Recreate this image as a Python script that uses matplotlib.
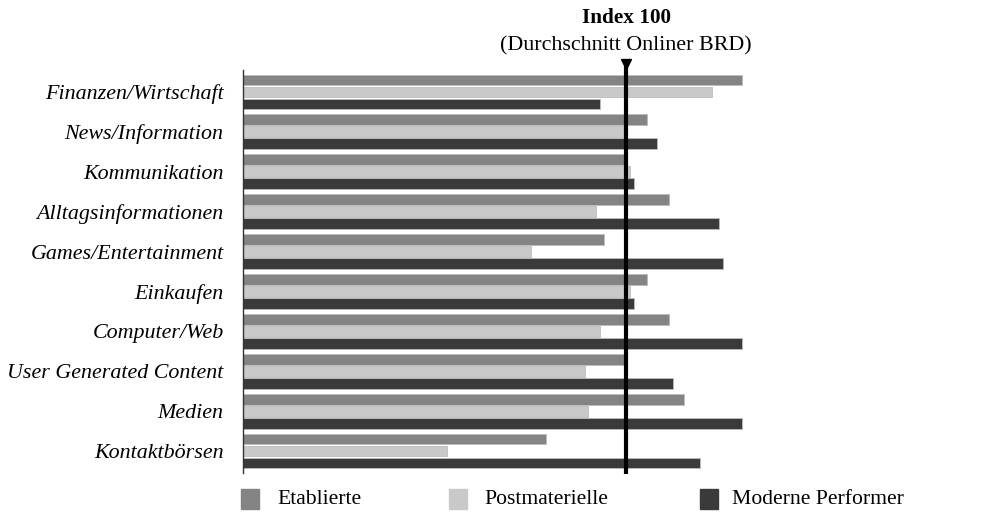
import matplotlib
matplotlib.use("Agg")
import matplotlib.pyplot as plt
from matplotlib.patches import Rectangle
import numpy as np

categories = ["Finanzen/Wirtschaft", "News/Information", "Kommunikation",
              "Alltagsinformationen", "Games/Entertainment", "Einkaufen",
              "Computer/Web", "User Generated Content", "Medien", "Kontaktbörsen"]
series_names = ["Etablierte", "Postmaterielle", "Moderne Performer"]
etablierte = [130.3, 105.4, 99.8, 111.3, 94.3, 105.4, 111.3, 99.8, 115.1, 79.1]
postmaterielle = [122.4, 99.6, 101.1, 92.1, 75.3, 101.1, 93.3, 89.2, 90.1, 53.3]
moderne = [93.3, 108.1, 102.1, 124.2, 125.3, 102.1, 130.3, 112.3, 130.3, 119.2]
index_value = 100

colors = ["#848484", "#c9c9c9", "#3a3a3a"]
plt.rcParams['font.family'] = ['Liberation Serif', 'DejaVu Serif']

W, H = 1002, 512
fig = plt.figure(figsize=(W / 100, H / 100), dpi=100)
ax_left, ax_top, ax_bottom = 243, 70, 473
xmax = 150
ax_right = ax_left + (626 - ax_left) * xmax / index_value
ax = fig.add_axes([ax_left / W, 1 - ax_bottom / H, (ax_right - ax_left) / W,
                   (ax_bottom - ax_top) / H])

y = np.arange(len(categories))
step = 0.30
h = 0.27
for k, (vals, c, name) in enumerate(zip([etablierte, postmaterielle, moderne], colors, series_names)):
    ax.barh(y + (k - 1) * step, vals, height=h, color=c, edgecolor="#bdbdbd",
            linewidth=0.6, label=name)

ax.set_xlim(0, xmax)
ax.set_ylim(len(categories) - 0.45, -0.55)
ax.set_yticks(y)
ax.set_yticklabels(categories, fontstyle="italic", fontsize=15.8)
ax.tick_params(axis="y", length=0, pad=14)
ax.set_xticks([])
for s in ["top", "right", "bottom"]:
    ax.spines[s].set_visible(False)
ax.spines["left"].set_color("#333333")
ax.spines["left"].set_linewidth(1.0)

# index line
ax.plot([index_value, index_value], [-0.55 - 0.1, len(categories) - 0.45 + 0.03],
        color="black", lw=3, clip_on=False, solid_capstyle="butt", zorder=5)
ax.plot([index_value], [-0.55 - 0.16], marker="v", color="black", markersize=7,
        clip_on=False, zorder=6)

fig.text(626 / W, 1 - 18 / H, "Index 100", ha="center", va="center",
         fontsize=15.3, fontweight="bold")
fig.text(626 / W, 1 - 46 / H, "(Durchschnitt Onliner BRD)", ha="center",
         va="center", fontsize=15.8)

# legend
sq_x = [241, 449, 700]
txt_x = [277, 484, 732]
for sx, tx, c, name in zip(sq_x, txt_x, colors, series_names):
    fig.patches.append(Rectangle((sx / W, 1 - 509 / H), 18 / W, 20 / H,
                                 transform=fig.transFigure, color=c))
    fig.text(tx / W, 1 - 500 / H, name, ha="left", va="center", fontsize=15.6)

fig.savefig("out.png", dpi=100)
